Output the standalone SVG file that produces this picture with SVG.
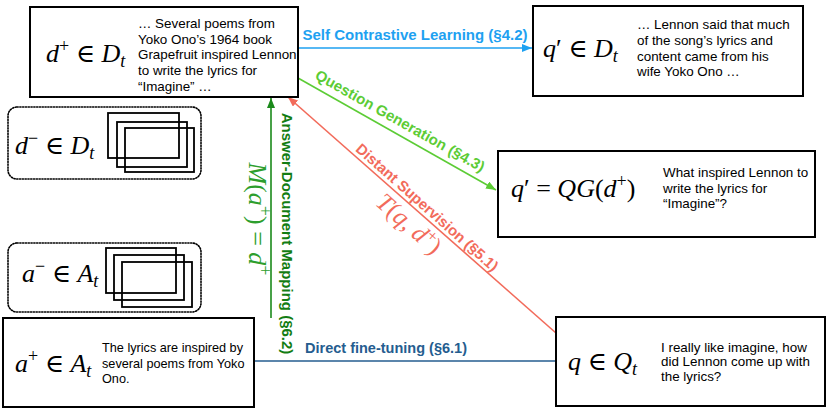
<svg xmlns="http://www.w3.org/2000/svg" width="830" height="415" viewBox="0 0 830 415">
<defs>
<style>
.box{fill:#fff;stroke:#000;stroke-width:2}
.dot{fill:none;stroke:#000;stroke-width:1.6;stroke-dasharray:1.2 1.6;stroke-linecap:round}
.stack{fill:none;stroke:#000;stroke-width:1.8}
.p{font-family:"Liberation Sans",Arial,sans-serif;font-size:13.4px;fill:#000}
.m{font-family:"Liberation Serif","DejaVu Serif",serif;font-size:26px;fill:#000}
.i{font-style:italic}
.sup{font-size:18px}
.sub{font-size:18px;font-style:italic}
.lbl{font-family:"Liberation Sans",Arial,sans-serif;font-size:15px;font-weight:bold}
.ln{fill:none;stroke-width:1.6}
</style>
<marker id="aBlue" viewBox="0 0 10 8" refX="10" refY="4" markerWidth="10" markerHeight="8" markerUnits="userSpaceOnUse" orient="auto"><path d="M0,0 L10,4 L0,8 z" fill="#1ea1f1"/></marker>
<marker id="aLG" viewBox="0 0 10 8" refX="10" refY="4" markerWidth="10" markerHeight="8" markerUnits="userSpaceOnUse" orient="auto"><path d="M0,0 L10,4 L0,8 z" fill="#5ccc35"/></marker>
<marker id="aRed" viewBox="0 0 10 8" refX="10" refY="4" markerWidth="10" markerHeight="8" markerUnits="userSpaceOnUse" orient="auto"><path d="M0,0 L10,4 L0,8 z" fill="#f26b5b"/></marker>
<marker id="aDG" viewBox="0 0 10 8" refX="10" refY="4" markerWidth="10" markerHeight="8" markerUnits="userSpaceOnUse" orient="auto"><path d="M0,0 L10,4 L0,8 z" fill="#1b8a1b"/></marker>
</defs>
<rect width="830" height="415" fill="#fff"/>

<g id="connectors">
<line class="ln" x1="298" y1="48" x2="532" y2="48" stroke="#1ea1f1" marker-end="url(#aBlue)"/>
<line class="ln" x1="298" y1="78" x2="496" y2="190" stroke="#5ccc35" marker-end="url(#aLG)"/>
<line class="ln" x1="556" y1="333" x2="288" y2="97" stroke="#f26b5b" marker-end="url(#aRed)"/>
<line class="ln" x1="271" y1="318" x2="271" y2="98" stroke="#1b8a1b" marker-end="url(#aDG)"/>
<line class="ln" x1="254" y1="361" x2="556" y2="361" stroke="#255d8f"/>
<text class="lbl" x="415" y="39.5" text-anchor="middle" fill="#1ea1f1">Self Contrastive Learning (§4.2)</text>
<text class="lbl" transform="translate(400,121) rotate(29.37)" text-anchor="middle" dy="5" fill="#5ccc35">Question Generation (§4.3)</text>
<text class="lbl" transform="translate(427,207.5) rotate(41.47)" text-anchor="middle" dy="5" fill="#f26b5b">Distant Supervision (§5.1)</text>
<text class="m" transform="translate(409,224) rotate(41.47)" text-anchor="middle" dy="8" style="font-size:25px;fill:#f26b5b"><tspan class="i">T</tspan>(<tspan class="i">q</tspan>, <tspan class="i">d</tspan><tspan dy="-9" style="font-size:17px">+</tspan><tspan dy="9">)</tspan></text>
<text class="lbl" transform="translate(287,233.5) rotate(90)" text-anchor="middle" dy="5" fill="#137d13">Answer-Document Mapping (§6.2)</text>
<text class="m" transform="translate(257,219) rotate(90)" text-anchor="middle" dy="8" style="font-size:26px;fill:#2d9e2d"><tspan class="i">M</tspan>(<tspan class="i">a</tspan><tspan dy="-10" style="font-size:18px">+</tspan><tspan dy="10">) = </tspan><tspan class="i">d</tspan><tspan dy="-10" style="font-size:18px">+</tspan></text>
<text class="lbl" x="386" y="352.5" text-anchor="middle" fill="#255d8f" style="font-size:14.5px">Direct fine-tuning (§6.1)</text>
</g>

<g id="node-dplus">
<rect class="box" x="30" y="7" width="268" height="90"/>
<text class="m" x="46" y="62"><tspan class="i">d</tspan><tspan class="sup" dy="-10">+</tspan><tspan dy="10"> ∈ </tspan><tspan class="i">D</tspan><tspan class="sub" dy="5">t</tspan></text>
<text class="p" x="138" y="27.7">… Several poems from</text>
<text class="p" x="138" y="43.5">Yoko Ono’s 1964 book</text>
<text class="p" x="138" y="59.2">Grapefruit inspired Lennon</text>
<text class="p" x="138" y="75">to write the lyrics for</text>
<text class="p" x="138" y="90.7">“Imagine” …</text>
</g>

<g id="node-qprime-doc">
<rect class="box" x="533" y="6" width="270" height="90"/>
<text class="m" x="543" y="57"><tspan class="i">q</tspan>′ ∈ <tspan class="i">D</tspan><tspan class="sub" dy="5">t</tspan></text>
<text class="p" x="637" y="29.3">… Lennon said that much</text>
<text class="p" x="637" y="44.9">of the song’s lyrics and</text>
<text class="p" x="637" y="60.5">content came from his</text>
<text class="p" x="637" y="76">wife Yoko Ono …</text>
</g>

<g id="node-qprime-qg">
<rect class="box" x="498" y="151" width="317" height="86"/>
<text class="m" x="511" y="197"><tspan class="i">q</tspan>′ = <tspan class="i">QG</tspan>(<tspan class="i">d</tspan><tspan class="sup" dy="-10">+</tspan><tspan dy="10">)</tspan></text>
<text class="p" x="663" y="176.7">What inspired Lennon to</text>
<text class="p" x="663" y="192.5">write the lyrics for</text>
<text class="p" x="663" y="208.3">“Imagine”?</text>
</g>

<g id="node-dminus">
<rect class="dot" x="8" y="107" width="193" height="72" rx="9"/>
<rect class="stack" x="108" y="113" width="71" height="45"/>
<rect class="stack" x="117" y="122" width="70" height="45"/>
<rect class="stack" x="125" y="128" width="69" height="44"/>
<text class="m" x="15" y="154"><tspan class="i">d</tspan><tspan class="sup" dy="-10">−</tspan><tspan dy="10"> ∈ </tspan><tspan class="i">D</tspan><tspan class="sub" dy="5">t</tspan></text>
</g>

<g id="node-aminus">
<rect class="dot" x="8" y="243" width="193" height="69" rx="9"/>
<rect class="stack" x="106" y="248" width="70" height="45"/>
<rect class="stack" x="114" y="255" width="70" height="45"/>
<rect class="stack" x="122" y="262" width="70" height="45"/>
<text class="m" x="22" y="282"><tspan class="i">a</tspan><tspan class="sup" dy="-10">−</tspan><tspan dy="10"> ∈ </tspan><tspan class="i">A</tspan><tspan class="sub" dy="5">t</tspan></text>
</g>

<g id="node-aplus">
<rect class="box" x="3" y="318" width="251" height="89"/>
<text class="m" x="15" y="372"><tspan class="i">a</tspan><tspan class="sup" dy="-10">+</tspan><tspan dy="10"> ∈ </tspan><tspan class="i">A</tspan><tspan class="sub" dy="5">t</tspan></text>
<text class="p" x="102" y="351.7" style="font-size:12.7px">The lyrics are inspired by</text>
<text class="p" x="102" y="367.5" style="font-size:12.7px">several poems from Yoko</text>
<text class="p" x="102" y="383.3" style="font-size:12.7px">Ono.</text>
</g>

<g id="node-q">
<rect class="box" x="556" y="317" width="269" height="89"/>
<text class="m" x="568" y="370"><tspan class="i">q</tspan> ∈ <tspan class="i">Q</tspan><tspan class="sub" dy="5">t</tspan></text>
<text class="p" x="661" y="351.7">I really like imagine, how</text>
<text class="p" x="661" y="366.2">did Lennon come up with</text>
<text class="p" x="661" y="380.7">the lyrics?</text>
</g>
</svg>
